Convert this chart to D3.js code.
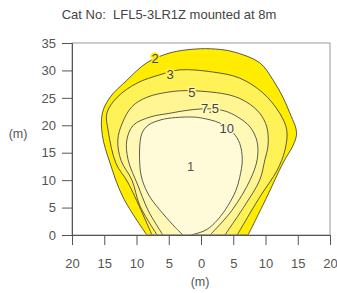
<!DOCTYPE html>
<html>
<head>
<meta charset="utf-8">
<script src="https://cdn.jsdelivr.net/npm/d3@7"></script>
<style>
  body { margin: 0; background: #fff; }
  text { font-family: "Liberation Sans", Arial, sans-serif; fill: #555; }
</style>
</head>
<body>
<script>
const w = 337;
const h = 293;

// data (metres)

const xTicks = [-20, -15, -10, -5, 0, 5, 10, 15, 20];
const xTickLabels = ["20", "15", "10", "5", "0", "5", "10", "15", "20"];
const yTicks = [0, 5, 10, 15, 20, 25, 30, 35];

const levels = ["2", "3", "5", "7.5", "10"];

const lux2 = [[-8.4,0],[-12.1,6.9],[-14.1,13.1],[-15.3,18.2],[-15.3,22.2],[-14.1,25.1],[-11.5,28.2],[-8.4,31.4],[-4.8,33.2],[-0.9,33.9],[2.2,33.9],[5.0,33.4],[9.1,31.4],[11.2,28.2],[12.7,25.1],[14.0,21.6],[14.7,19.5],[14.8,18.2],[14.3,16.4],[12.7,13.1],[10.2,6.9],[7.3,0]];
const lux3 = [[-7.6,0],[-11.3,9.5],[-13.2,13.1],[-14.4,19.1],[-14.6,22.2],[-13.0,25.1],[-9.9,27.7],[-6.4,29.2],[-3.3,30.1],[1.9,29.7],[6.0,28.6],[9.6,25.9],[12.2,22.2],[13.3,19.1],[13.0,15.4],[11.8,11.8],[9.1,6.9],[5.6,0]];
const lux5 = [[-6.8,0],[-9.5,5.4],[-10.7,10.0],[-12.4,13.6],[-12.9,17.3],[-12.2,20.4],[-10.7,23.4],[-8.4,25.1],[-4.8,26.1],[-1.4,26.3],[4.5,25.5],[7.1,24.2],[9.1,22.2],[10.2,19.7],[10.4,16.4],[9.9,13.7],[9.1,10.0],[6.8,5.4],[3.7,0]];
const lux75 = [[-5.9,0],[-8.2,4.5],[-9.8,9.1],[-11.3,13.7],[-11.5,17.3],[-10.5,20.0],[-7.9,21.5],[-4.8,22.2],[-1.7,22.8],[1.4,23.0],[3.7,22.6],[5.7,21.5],[7.6,19.7],[8.7,17.0],[8.7,13.7],[7.6,10.0],[4.8,4.5],[1.4,0]];
const lux10 = [[-2.8,0],[-4.0,1.4],[-5.9,3.9],[-7.9,6.9],[-9.1,10.0],[-9.5,13.1],[-9.2,18.4],[-8.2,20.0],[-6.2,21.0],[-4.0,21.4],[-1.2,21.5],[0.2,21.3],[2.9,20.4],[5.0,18.6],[6.0,16.7],[6.4,13.7],[6.0,10.5],[5.4,8.1],[4.2,5.4],[2.6,2.8],[0.9,1.0],[-0.9,0.2],[-1.7,0]];

const labelPos = [[-7.1,32.1],[-4.8,29.3],[-1.4,25.9],[1.4,23.0],[4.0,19.5]];
const zoneLabel = "1";
const zonePos = [-1.6, 12.5];

const colors = ["#ffec00", "#fff257", "#fff592", "#fff8b6", "#fffbd8"];

// SVG

const svg = d3.select("body").append("svg").attr("width", w).attr("height", h);

const x = d3.scaleLinear().domain([-20, 20]).range([72, 330]);
const y = d3.scaleLinear().domain([0, 35]).range([235, 43]);

// Title

svg.append("text")
  .attr("x", 169).attr("y", 19)
  .attr("text-anchor", "middle")
  .attr("font-size", 13)
  .style("white-space", "pre")
  .style("fill", "#444")
  .text("Cat No:  LFL5-3LR1Z mounted at 8m");

// Contours

const line = d3.line()
  .x((d) => x(d[0]))
  .y((d) => y(d[1]))
  .curve(d3.curveCatmullRom.alpha(0.5));

svg.append("g")
  .selectAll("path")
  .data([lux2, lux3, lux5, lux75, lux10])
  .join("path")
  .attr("d", (d) => line(d) + "Z")
  .attr("fill", (d, i) => colors[i])
  .attr("stroke", "#333")
  .attr("stroke-width", 0.8);

// Contour labels

svg.append("g")
  .selectAll("text")
  .data(levels)
  .join("text")
  .attr("x", (d, i) => x(labelPos[i][0]))
  .attr("y", (d, i) => y(labelPos[i][1]))
  .attr("dy", "0.35em")
  .attr("text-anchor", "middle")
  .attr("font-size", 13)
  .attr("stroke", (d, i) => colors[i])
  .attr("stroke-width", 3)
  .attr("paint-order", "stroke")
  .style("fill", "#444")
  .text((d) => d);

svg.append("text")
  .attr("x", x(zonePos[0])).attr("y", y(zonePos[1]))
  .attr("dy", "0.35em")
  .attr("text-anchor", "middle")
  .attr("font-size", 13)
  .style("fill", "#555")
  .text(zoneLabel);

// Frame

svg.append("rect")
  .attr("x", x(-20)).attr("y", y(35))
  .attr("width", x(20) - x(-20)).attr("height", y(0) - y(35))
  .attr("fill", "none")
  .attr("stroke", "#999");

// Axes

const xAxis = svg.append("g")
  .attr("transform", `translate(0,${y(0)})`)
  .call(d3.axisBottom(x).tickValues(xTicks).tickSize(10).tickPadding(14)
    .tickFormat((d, i) => xTickLabels[i]));

const yAxis = svg.append("g")
  .attr("transform", `translate(${x(-20)},0)`)
  .call(d3.axisLeft(y).tickValues(yTicks).tickSize(10).tickPadding(6));

[xAxis, yAxis].forEach((g) => {
  g.select(".domain").attr("stroke", "#555");
  g.selectAll(".tick line").attr("stroke", "#555");
  g.selectAll(".tick text").attr("font-size", 13).style("fill", "#555")
    .attr("font-family", "Liberation Sans, Arial, sans-serif");
});

// Axis titles

svg.append("text")
  .attr("x", 200).attr("y", 286)
  .attr("text-anchor", "middle")
  .attr("font-size", 12.5)
  .text("(m)");

svg.append("text")
  .attr("x", 18).attr("y", 138)
  .attr("text-anchor", "middle")
  .attr("font-size", 12.5)
  .text("(m)");
</script>
</body>
</html>
